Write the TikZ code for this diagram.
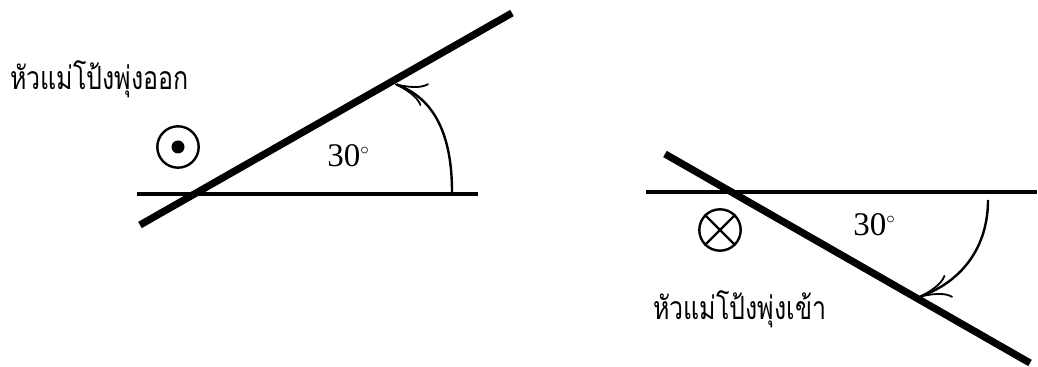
\documentclass[tikz,border=0pt]{standalone}
\usepackage{fontspec}
\setmainfont{Liberation Serif}
\newfontfamily\thaifont[Script=Thai, FakeStretch=0.78]{Loma}
\usetikzlibrary{arrows.meta}
\tikzset{
  axisln/.style   = {draw=black, line width=2.2pt},
  rodln/.style    = {draw=black, line width=3.6pt},
  ringmark/.style = {circle, draw=black, line width=1.2pt, minimum size=20.7pt, inner sep=0pt},
}

\begin{document}
\begin{tikzpicture}[
            x=0.5pt, y=0.5pt,
            >={Computer Modern Rightarrow[length=16pt, width=12pt, line width=0.9pt]},
            sweep/.style  ={->, line width=1.2pt, draw=black},
            thailbl/.style={font=\thaifont\fontsize{16}{19}\selectfont, inner sep=0pt},
            anglbl/.style ={font=\fontsize{16.5}{18}\selectfont, inner sep=0pt}
        ]
        \useasboundingbox (0,0) rectangle (1038,367);

        %% --- Left: thumb out of the page ---------------------------------
        \coordinate (lhA) at (137,173);
        \coordinate (lhB) at (478,173);
        \coordinate (lrA) at (140,142);
        \coordinate (lrB) at (512,354);
        \draw[axisln] (lhA) -- (lhB);
        \draw[rodln]  (lrA) -- (lrB);

        \coordinate (larcS) at (452,175);
        \coordinate (larcE) at (395,283);
        \draw[sweep] (larcS) to[out=90, in=-20] (larcE);

        \node[ringmark] (lout) at (178,220) {};
        \fill (lout.center) circle (6.5);
        \node[thailbl, anchor=base west] (ltxt) at (10,277) {หัวแม่โป้งพุ่งออก};
        \node[anglbl, anchor=base west] (lang) at (327,200) {30$^{\scriptscriptstyle\circ}$};

        %% --- Right: thumb into the page ----------------------------------
        \coordinate (rhA) at (646,175);
        \coordinate (rhB) at (1037,175);
        \coordinate (rrA) at (665,213);
        \coordinate (rrB) at (1030,4);
        \draw[axisln] (rhA) -- (rhB);
        \draw[rodln]  (rrA) -- (rrB);

        \coordinate (rarcS) at (988,167);
        \coordinate (rarcE) at (919,70);
        \draw[sweep] (rarcS) to[out=-90, in=20] (rarcE);

        \node[ringmark] (rin) at (720,137) {};
        \draw[line width=1.2pt] (rin.45) -- (rin.225);
        \draw[line width=1.2pt] (rin.135) -- (rin.-45);
        \node[thailbl, anchor=base west] (rtxt) at (653,47) {หัวแม่โป้งพุ่งเข้า};
        \node[anglbl, anchor=base west] (rang) at (853,131) {30$^{\scriptscriptstyle\circ}$};

    \end{tikzpicture}
\end{document}
